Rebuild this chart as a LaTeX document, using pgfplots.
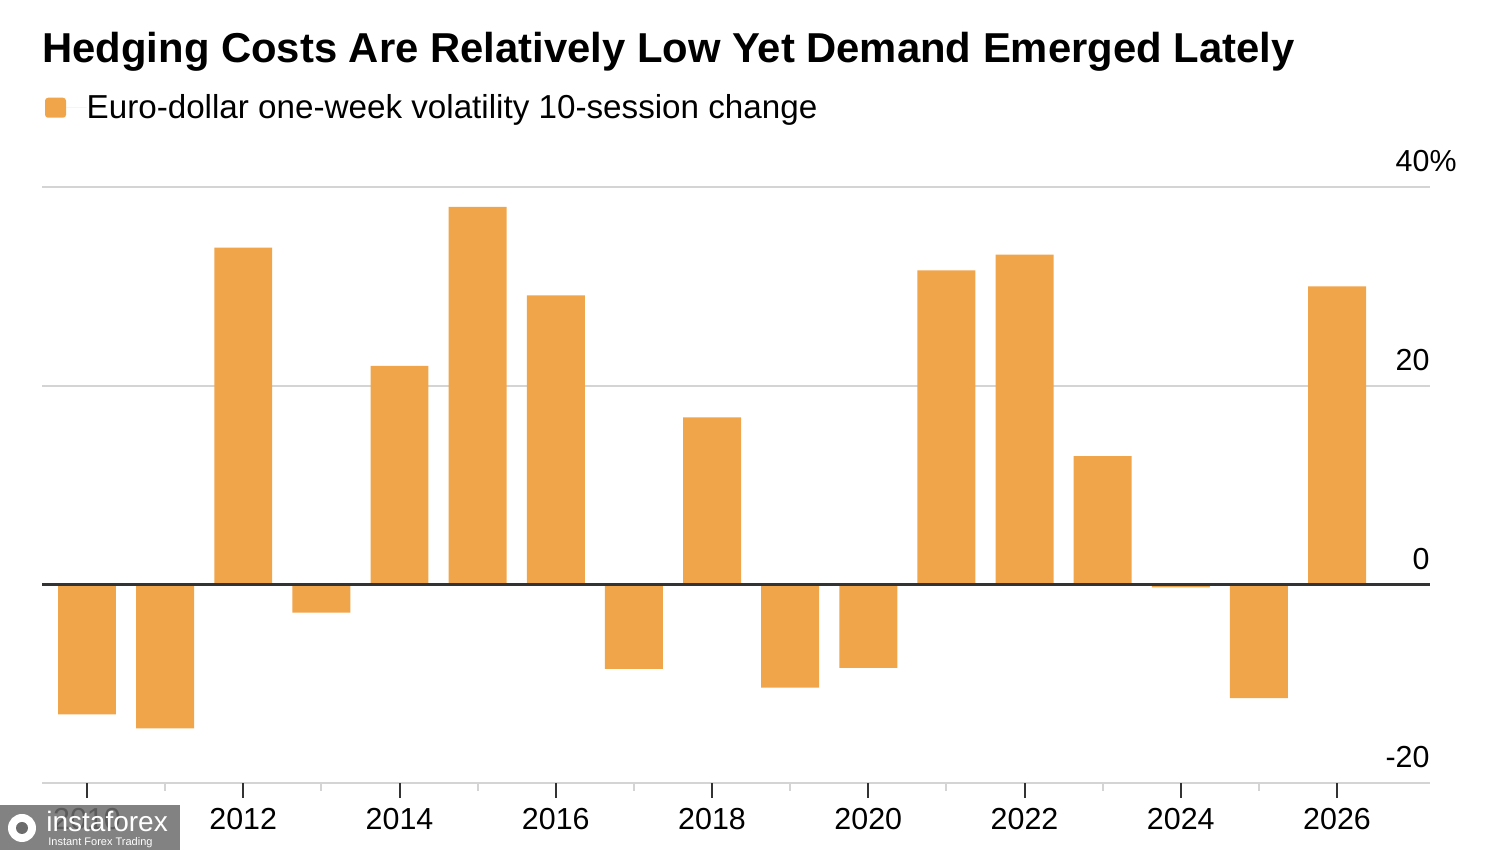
\documentclass[border=0pt]{standalone}
\usepackage{pgfplots}
\pgfplotsset{compat=1.18}
\usepackage{pgfplotstable}
\usepackage{fontspec}
\setmainfont{Liberation Sans}
\definecolor{barorange}{HTML}{F1A54A}
\definecolor{gridgray}{HTML}{D4D4D4}
\definecolor{zeroline}{HTML}{333333}
\pgfplotstableread{
year value
2010 -13.1
2011 -14.5
2012 33.9
2013 -2.85
2014 22.0
2015 38.0
2016 29.1
2017 -8.5
2018 16.8
2019 -10.4
2020 -8.4
2021 31.6
2022 33.2
2023 12.9
2024 -0.3
2025 -11.45
2026 30.0
}\datatable
\begin{document}
\begin{tikzpicture}[x=0.5pt,y=0.5pt]
\path[use as bounding box] (0,0) rectangle (1500,850);
\node[anchor=base west, inner sep=0pt, font=\fontsize{20.9}{24}\selectfont\bfseries] at (42,787.7) {Hedging Costs Are Relatively Low Yet Demand Emerged Lately};
\begin{axis}[
  at={(21pt,33.5pt)}, anchor=south west,
  scale only axis, width=694pt, height=298pt,
  xmin=2009.424, xmax=2027.19, ymin=-20, ymax=40,
  axis line style={draw=none},
  ymajorgrids, grid style={gridgray, line width=1pt},
  ytick={-20,0,20,40},
  yticklabels={-20,0,20,40\rlap{\%}},
  yticklabel pos=right,
  ytick style={draw=none},
  yticklabel style={anchor=south east, inner sep=0pt, xshift=-7.5pt, yshift=7.3pt, font=\fontsize{15.2}{18}\selectfont},
  xtick={2010,2012,2014,2016,2018,2020,2022,2024,2026},
  xticklabels={2010,2012,2014,2016,2018,2020,2022,2024,2026},
  minor xtick={2011,2013,2015,2017,2019,2021,2023,2025},
  xtick pos=bottom,
  tick align=outside,
  major tick length=7.5pt,
  minor tick length=4pt,
  xtick style={zeroline, line width=1pt},
  minor x tick style={gridgray, line width=1pt},
  xticklabel style={anchor=base, inner sep=0pt, yshift=-16pt, font=\fontsize{15.2}{18}\selectfont},
  legend style={draw=none, fill=none, inner sep=0pt, outer sep=0pt, at={(0.0022,1.133)}, anchor=west, font=\fontsize{16.6}{19}\selectfont, nodes={inner sep=0pt}},
  legend cell align=left,
  legend image code/.code={\fill[barorange, rounded corners=1.5pt] (0pt,-5pt) rectangle (10.5pt,5pt); \path (0pt,0pt) -- (20.8pt,0pt);},
]
\addplot[ybar, bar width=0.742, fill=barorange, draw=none] table[x=year, y=value] {\datatable};
\addlegendentry{Euro-dollar one-week volatility 10-session change}
\draw[zeroline, line width=1.5pt] (axis cs:2009.424,0) -- (axis cs:2027.19,0);
\end{axis}
\fill[gray!85!black, fill opacity=0.85] (0,0) rectangle (180,45);
\fill[white] (22,22) circle (14);
\fill[gray!85!black] (22,22) circle (6);
\node[anchor=base west, inner sep=0pt, white, font=\fontsize{14}{16}\selectfont] at (46,18) {instaforex};
\node[anchor=base west, inner sep=0pt, white, font=\fontsize{5.5}{6}\selectfont] at (48,4) {Instant Forex Trading};
\end{tikzpicture}
\end{document}
